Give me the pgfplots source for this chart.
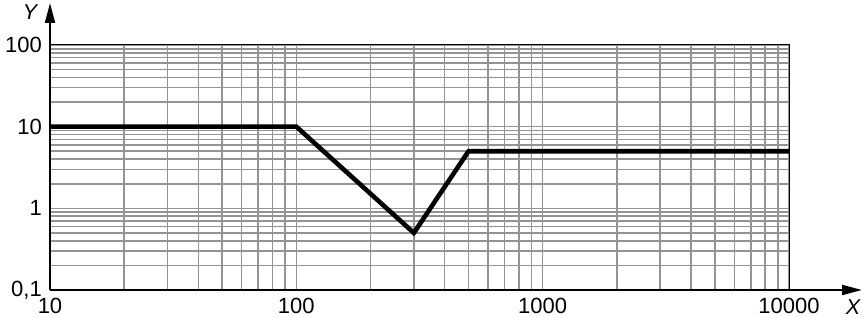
\documentclass[border=0pt]{standalone}
\usepackage{fontspec}
\setmainfont{Liberation Sans}
\usepackage{pgfplots}
\pgfplotsset{compat=1.18}
\usetikzlibrary{arrows.meta}
\begin{document}
\fontsize{21.5}{24}\selectfont
\begin{tikzpicture}[x=1pt,y=1pt]
\useasboundingbox (-50,-28) rectangle (814,290);
\begin{axis}[
  at={(0,0)}, anchor=south west,
  scale only axis, width=739pt, height=245pt,
  xmode=log, ymode=log,
  xmin=10, xmax=10000, ymin=0.1, ymax=100,
  grid=both,
  major grid style={black!42, line width=1.6pt},
  minor grid style={black!42, line width=1.6pt},
  major tick length=0pt, minor tick length=0pt,
  xtick={10,100,1000,10000}, xticklabels={10,100,1000,10000},
  ytick={0.1,1,10,100}, yticklabels={0{,}1,1,10,100},
  axis line style={black, line width=1pt},
  tick label style={font=\fontsize{22}{24}\selectfont},
  xticklabel style={inner sep=0pt, anchor=north, yshift=-8pt},
  yticklabel style={inner sep=0pt, anchor=east, xshift=-8pt},
]
\addplot[black, line width=4.6pt, line join=miter, mark=none] coordinates {(10,10) (100,10) (300,0.5) (500,5) (10000,5)};
\end{axis}
\draw[line width=2pt, -{Triangle[length=20pt,width=10pt]}] (0,0) -- (0,287);
\draw[line width=2pt, -{Triangle[length=20pt,width=10pt]}] (0,0) -- (812,0);
\node at (-20,278) {\itshape Y};
\node at (803,-17) {\itshape X};
\end{tikzpicture}
\end{document}
